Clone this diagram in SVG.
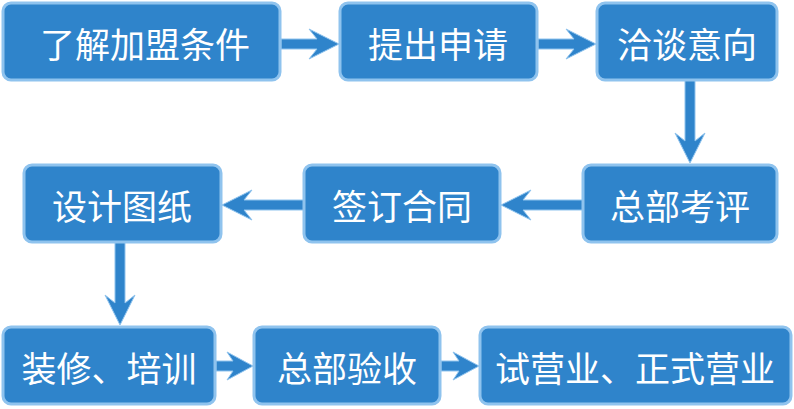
<svg xmlns="http://www.w3.org/2000/svg" width="794" height="409" viewBox="0 0 794 409">
<style>
.n{fill:#2f84cb;stroke:#8fc3ee;stroke-width:3}
.t{fill:#fff;font-family:"Noto Sans CJK SC",sans-serif;font-size:35px;text-anchor:middle;dominant-baseline:central}
.a{fill:#2f84cb;stroke:#8fc3ee;stroke-width:1}
</style>
<rect width="794" height="409" fill="#fff"/>
<g id="connectors">
<path class="a" d="M281,39 L317,39 L309,29 L339,44 L309,59 L317,49 L281,49 Z"/>
<path class="a" d="M538,39 L574,39 L566,29 L596,44 L566,59 L574,49 L538,49 Z"/>
<path class="a" d="M685,80 L685,141 L675,133 L690,163 L705,133 L695,141 L695,80 Z"/>
<path class="a" d="M583,200 L523,200 L531,190 L501,205 L531,220 L523,210 L583,210 Z"/>
<path class="a" d="M304,200 L244,200 L252,190 L222,205 L252,220 L244,210 L304,210 Z"/>
<path class="a" d="M115,242 L115,303 L105,295 L120,325 L135,295 L125,303 L125,242 Z"/>
<path class="a" d="M216,361 L233,361 L227,352 L253,366 L227,380 L233,371 L216,371 Z"/>
<path class="a" d="M441,361 L459,361 L453,352 L479,366 L453,380 L459,371 L441,371 Z"/>
</g>
<g id="n1"><rect class="n" x="3" y="3" width="277" height="77" rx="8"/><text class="t" x="145" y="42">了解加盟条件</text></g>
<g id="n2"><rect class="n" x="340" y="3" width="197" height="77" rx="8"/><text class="t" x="438" y="42">提出申请</text></g>
<g id="n3"><rect class="n" x="597" y="3" width="180" height="77" rx="8"/><text class="t" x="687" y="42">洽谈意向</text></g>
<g id="n4"><rect class="n" x="583" y="165" width="194" height="77" rx="8"/><text class="t" x="680" y="204">总部考评</text></g>
<g id="n5"><rect class="n" x="304" y="165" width="196" height="77" rx="8"/><text class="t" x="402" y="204">签订合同</text></g>
<g id="n6"><rect class="n" x="24" y="165" width="197" height="77" rx="8"/><text class="t" x="122" y="204">设计图纸</text></g>
<g id="n7"><rect class="n" x="3" y="327" width="212" height="77" rx="8"/><text class="t" x="109" y="366">装修、培训</text></g>
<g id="n8"><rect class="n" x="254" y="327" width="186" height="77" rx="8"/><text class="t" x="347" y="366">总部验收</text></g>
<g id="n9"><rect class="n" x="480" y="327" width="311" height="77" rx="8"/><text class="t" x="635" y="366">试营业、正式营业</text></g>
</svg>
